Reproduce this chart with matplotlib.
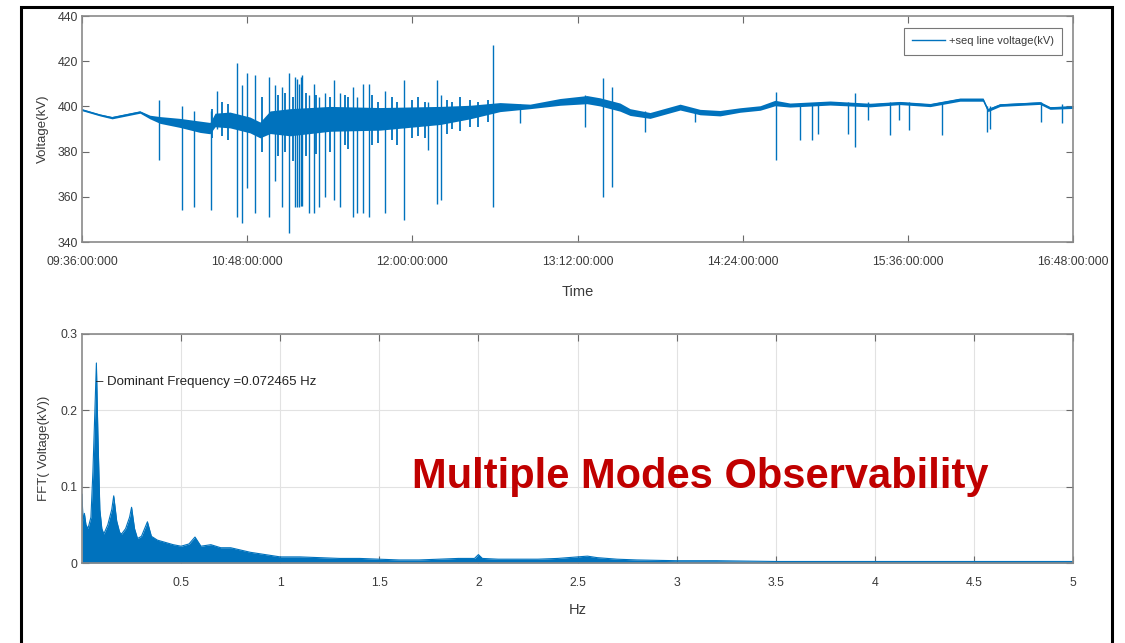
"""Positive-sequence line voltage over the day and its FFT (multiple modes observability)."""
import matplotlib
matplotlib.use("Agg")
import matplotlib.pyplot as plt
from matplotlib.patches import Rectangle

BLUE = "#0072BD"
GREY = "#3a3a3a"
RED = "#C00000"

# --- top panel: voltage trend (minutes after 09:36) ------------------------ #
base_t = [0, 7.8, 13.1, 20.9, 25.3, 29.6, 34.0, 42.7, 51.4, 55.8, 58.0, 64.5,
          73.2, 77.6, 82.0, 90.7, 108.1, 129.9, 156.1, 169.1, 182.2, 195.3,
          208.4, 220.1, 225.8, 234.5, 238.9, 247.6, 260.7, 269.4, 278.1, 286.8,
          295.6, 302.1, 308.6, 326.1, 343.5, 356.6, 369.7, 382.7, 392.8, 394.9,
          400.2, 417.6, 422.0, 432.0]
base_v = [398.5, 396.2, 395.0, 396.6, 397.5, 395.3, 394.0, 392.7, 391.0, 390.4,
          394.0, 394.0, 391.8, 389.6, 393.0, 393.0, 394.5, 394.5, 396.0, 397.5,
          399.7, 400.0, 402.0, 403.0, 402.0, 399.7, 397.5, 396.0, 399.7, 397.5,
          397.0, 398.4, 399.3, 401.5, 400.6, 401.5, 400.6, 401.5, 400.6, 403.0,
          403.0, 398.4, 400.6, 401.5, 399.3, 399.7]
band_w = [0.4, 0.4, 0.5, 0.5, 0.5, 0.8, 1.5, 2.0, 2.5, 2.5, 3.0, 3.5,
          3.5, 3.5, 5.0, 6.0, 5.5, 5.0, 4.0, 3.0, 2.0, 1.0,
          1.5, 1.8, 1.8, 1.8, 1.5, 1.3, 1.3, 1.2, 1.2, 1.0,
          1.0, 1.2, 0.9, 0.9, 0.8, 0.7, 0.7, 0.7, 0.7, 0.7,
          0.6, 0.6, 0.6, 0.6]

# large spikes: time, lowest, highest (kV)
spike_t = [33.6, 43.6, 48.8, 56.2, 58.9, 67.6, 69.7, 71.9, 75.4, 81.5, 84.1,
           87.2, 90.2, 92.9, 93.7, 94.6, 95.5, 95.9, 99.0, 101.1, 103.3, 105.9,
           109.9, 112.5, 118.1, 119.9, 122.5, 125.1, 132.1, 140.4, 150.8, 154.8,
           156.5, 179.2, 190.9, 219.3, 227.1, 231.0, 245.4, 267.2, 302.5, 313.0,
           318.2, 320.8, 333.9, 337.0, 342.6, 352.2, 356.1, 360.5, 374.9, 394.5,
           395.8, 418.0, 427.2]
spike_lo = [376.3, 354.0, 355.5, 354.0, 390.0, 351.0, 348.4, 364.0, 353.0, 351.0,
            367.0, 355.5, 344.0, 355.5, 355.5, 355.5, 356.0, 356.0, 353.0, 353.0,
            355.5, 360.0, 358.6, 355.5, 351.0, 353.0, 353.0, 351.0, 353.0, 349.7,
            380.7, 357.0, 358.6, 355.5, 392.7, 391.0, 360.0, 364.3, 388.7, 393.0,
            376.3, 385.0, 385.0, 388.0, 388.0, 382.0, 394.0, 387.3, 394.0, 389.6,
            387.3, 388.7, 390.0, 393.0, 392.7]
spike_hi = [402.8, 400.0, 398.0, 398.0, 407.0, 419.0, 409.5, 414.8, 414.0, 413.0,
            409.5, 408.6, 414.8, 413.0, 412.0, 410.0, 413.0, 414.0, 405.0, 410.0,
            404.0, 406.0, 411.7, 406.0, 408.6, 404.0, 410.0, 410.0, 407.0, 411.7,
            402.0, 411.7, 405.0, 427.0, 401.0, 405.0, 412.6, 408.6, 398.0, 399.0,
            406.4, 401.0, 401.0, 401.0, 402.0, 406.0, 402.0, 402.0, 402.0, 402.0,
            402.0, 400.0, 400.0, 402.0, 401.0]

# smaller excursions inside the noisy 10:50-12:30 stretch
minor_t = [56.7, 61.0, 63.6, 78.5, 85.4, 88.5, 92.0, 97.6, 102.0, 108.1, 114.6,
           116.0, 126.4, 129.0, 135.1, 137.3, 143.9, 146.5, 149.5, 159.1, 161.3,
           164.8, 169.1, 172.6, 177.0]
minor_lo = [386, 387, 385, 380, 378, 380, 376, 378, 379, 380, 383,
            381, 383, 384, 385, 383, 386, 387, 386, 388, 390,
            389, 391, 391, 393]
minor_hi = [399, 402, 401, 404, 405, 406, 404, 406, 405, 404, 405,
            404, 405, 402, 404, 402, 403, 404, 402, 403, 402,
            404, 403, 402, 403]

time_ticks = [0, 72, 144, 216, 288, 360, 432]
time_labels = ["09:36:00:000", "10:48:00:000", "12:00:00:000", "13:12:00:000",
               "14:24:00:000", "15:36:00:000", "16:48:00:000"]
volt_ticks = [340, 360, 380, 400, 420, 440]

# --- bottom panel: FFT amplitude envelope ---------------------------------- #
freq = [0.0, 0.005, 0.012, 0.02, 0.03, 0.045, 0.055, 0.065, 0.0725, 0.08, 0.09,
        0.1, 0.11, 0.13, 0.15, 0.16, 0.175, 0.19, 0.2, 0.22, 0.24, 0.25, 0.265,
        0.28, 0.3, 0.33, 0.35, 0.38, 0.42, 0.46, 0.5, 0.54, 0.57, 0.6, 0.65,
        0.7, 0.75, 0.8, 0.85, 0.9, 0.95, 1.0, 1.1, 1.2, 1.3, 1.4, 1.5, 1.6,
        1.7, 1.8, 1.9, 1.98, 2.0, 2.02, 2.1, 2.2, 2.3, 2.4, 2.5, 2.55, 2.6,
        2.7, 2.8, 3.0, 3.2, 3.5, 3.8, 4.0, 4.5, 5.0]
amp = [0.09, 0.055, 0.065, 0.05, 0.045, 0.06, 0.12, 0.2, 0.262, 0.17, 0.07,
       0.045, 0.038, 0.05, 0.07, 0.088, 0.055, 0.04, 0.038, 0.045, 0.06, 0.073,
       0.045, 0.032, 0.035, 0.054, 0.035, 0.03, 0.027, 0.024, 0.022, 0.025,
       0.034, 0.022, 0.024, 0.02, 0.02, 0.017, 0.014, 0.012, 0.01, 0.008,
       0.008, 0.007, 0.006, 0.006, 0.005, 0.004, 0.004, 0.005, 0.006, 0.006,
       0.011, 0.006, 0.005, 0.005, 0.005, 0.006, 0.008, 0.009, 0.007, 0.005,
       0.004, 0.003, 0.003, 0.002, 0.002, 0.002, 0.002, 0.002]
freq_ticks = [0.5, 1, 1.5, 2, 2.5, 3, 3.5, 4, 4.5, 5]
freq_labels = ["0.5", "1", "1.5", "2", "2.5", "3", "3.5", "4", "4.5", "5"]
fft_ticks = [0, 0.1, 0.2, 0.3]
fft_labels = ["0", "0.1", "0.2", "0.3"]
dom_freq = 0.072465


def style_axes(ax):
    for sp in ax.spines.values():
        sp.set_color("#8a8a8a")
        sp.set_linewidth(1.2)
    ax.tick_params(direction="in", length=5, width=0.8, color="#6a6a6a",
                   labelcolor=GREY, labelsize=8.8, top=True, right=True)
    ax.tick_params(axis="x", pad=10)
    ax.tick_params(axis="y", pad=3)


def main():
    plt.rcParams.update({"font.family": ["Liberation Sans", "DejaVu Sans"]})
    fig = plt.figure(figsize=(11.25, 6.43), dpi=100)

    # outer slide frame
    fig.patches.append(Rectangle((21 / 1125, -0.05), 1091 / 1125, 1.05 - 7 / 643,
                                 transform=fig.transFigure, fill=False,
                                 edgecolor="black", linewidth=2.2))

    ax1 = fig.add_axes([0.0729, 0.6236, 0.8809, 0.3515])
    lo = [b - w for b, w in zip(base_v, band_w)]
    hi = [b + w for b, w in zip(base_v, band_w)]
    ax1.fill_between(base_t, lo, hi, color=BLUE, lw=0)
    ax1.vlines(minor_t, minor_lo, minor_hi, color=BLUE, lw=1.3)
    ax1.vlines(spike_t, spike_lo, spike_hi, color=BLUE, lw=1.0)
    ax1.plot(base_t, base_v, color=BLUE, lw=1.0, label="+seq line voltage(kV)")
    ax1.set_xlim(0, 432)
    ax1.set_ylim(340, 440)
    ax1.set_xticks(time_ticks)
    ax1.set_xticklabels(time_labels)
    ax1.set_yticks(volt_ticks)
    style_axes(ax1)
    ax1.set_xlabel("Time", fontsize=10.5, color=GREY, labelpad=12)
    ax1.set_ylabel("Voltage(kV)", fontsize=9.5, color=GREY, labelpad=6)
    leg = ax1.legend(loc="upper right", bbox_to_anchor=(0.989, 0.947),
                     borderaxespad=0, fontsize=8, frameon=True, fancybox=False,
                     handlelength=3.0, handletextpad=0.3, borderpad=0.75)
    leg.get_frame().set_edgecolor("#555555")
    leg.get_frame().set_linewidth(0.8)
    for txt in leg.get_texts():
        txt.set_color(GREY)

    ax2 = fig.add_axes([0.0729, 0.1244, 0.8809, 0.3562])
    ax2.grid(True, color="#e2e2e2", lw=0.8)
    ax2.set_axisbelow(True)
    ax2.fill_between(freq, 0, amp, color=BLUE, lw=0)
    ax2.plot(freq, amp, color=BLUE, lw=0.8)
    ax2.set_xlim(0, 5)
    ax2.set_ylim(0, 0.3)
    ax2.set_xticks(freq_ticks)
    ax2.set_xticklabels(freq_labels)
    ax2.set_yticks(fft_ticks)
    ax2.set_yticklabels(fft_labels)
    style_axes(ax2)
    ax2.set_xlabel("Hz", fontsize=10.5, color=GREY, labelpad=10)
    ax2.set_ylabel("FFT( Voltage(kV))", fontsize=9.5, color=GREY, labelpad=8)
    ax2.text(dom_freq, 0.237, f"\u2013 Dominant Frequency ={dom_freq} Hz",
             fontsize=9.5, color="#222222", va="center", ha="left")

    # slide caption laid over the FFT panel
    fig.text(0.622, 0.258, "Multiple Modes Observability", fontsize=30,
             fontweight="bold", color=RED, ha="center", va="center")
    fig.savefig("out.png", dpi=100)


if __name__ == "__main__":
    main()
